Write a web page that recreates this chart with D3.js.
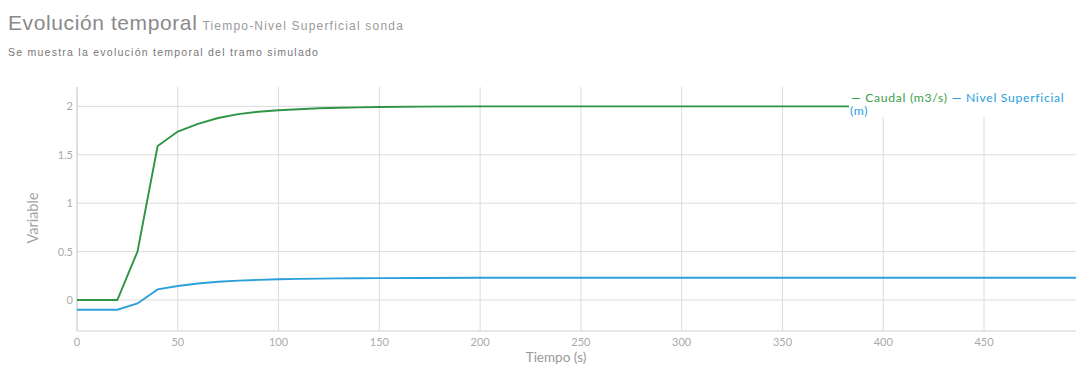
<!DOCTYPE html>
<html><head><meta charset="utf-8">
<script src="https://cdn.jsdelivr.net/npm/d3@7"></script>
<style>
body{margin:0;background:#fff;overflow:hidden}
svg{display:block}
</style></head><body>
<svg id="c" width="1076" height="370"></svg>
<script>
const times = [0,10,20,30,40,50,60,70,80,90,100,110,120,130,140,150,170,200,250,300,350,400,450,500];
const caudal = [0,0,0,0.5,1.59,1.74,1.82,1.88,1.92,1.945,1.96,1.97,1.98,1.985,1.99,1.993,1.997,2,2,2,2,2,2,2];
const nivel = [-0.1,-0.1,-0.1,-0.035,0.11,0.145,0.17,0.188,0.2,0.208,0.214,0.218,0.221,0.223,0.225,0.226,0.228,0.23,0.23,0.23,0.23,0.23,0.23,0.23];
const xTicks = [0,50,100,150,200,250,300,350,400,450];
const yTicks = [0,0.5,1,1.5,2];
const seriesNames = ["Caudal (m3/s)","Nivel Superficial (m)"];

const svg = d3.select("#c");
const pLeft = 77, pTop = 87, pBottom = 331, pRight = 1076;
const x = d3.scaleLinear().domain([0,500]).range([pLeft, pLeft + 500*2.0156]);
const y = d3.scaleLinear().domain([-0.32,2.2]).range([pBottom, pTop]);
const tickFont = "Lato, 'Open Sans', sans-serif";

// grid
svg.append("g").selectAll("line").data(xTicks).join("line")
  .attr("x1", d=>x(d)).attr("x2", d=>x(d)).attr("y1", pTop).attr("y2", pBottom)
  .attr("stroke", "#dcdcdc").attr("stroke-width", 1);
svg.append("g").selectAll("line").data(yTicks).join("line")
  .attr("x1", pLeft).attr("x2", pRight).attr("y1", d=>y(d)).attr("y2", d=>y(d))
  .attr("stroke", "#dcdcdc").attr("stroke-width", 1);
// axes lines
svg.append("line").attr("x1",pLeft).attr("x2",pLeft).attr("y1",pTop).attr("y2",pBottom).attr("stroke","#d0d0d0");
svg.append("line").attr("x1",pLeft).attr("x2",pRight).attr("y1",pBottom).attr("y2",pBottom).attr("stroke","#d0d0d0");

// tick labels
svg.append("g").selectAll("text").data(xTicks).join("text")
  .attr("x", d=>x(d)).attr("y", 346).attr("text-anchor","middle")
  .attr("font-family", tickFont).attr("font-size", 11).attr("fill", "#aaa")
  .text(d=>d);
svg.append("g").selectAll("text").data(yTicks).join("text")
  .attr("x", 73).attr("y", d=>y(d)+4).attr("text-anchor","end")
  .attr("font-family", tickFont).attr("font-size", 11).attr("fill", "#aaa")
  .text(d=>d);

// axis titles
svg.append("text").attr("x", 556).attr("y", 362).attr("text-anchor","middle")
  .attr("font-family", tickFont).attr("font-size", 13.5).attr("fill", "#999").text("Tiempo (s)");
svg.append("text").attr("transform","translate(38,218) rotate(-90)").attr("text-anchor","middle")
  .attr("font-family", tickFont).attr("font-size", 14.5).attr("fill", "#a5a5a5").text("Variable");

// lines
const line = vals => d3.line().x((d,i)=>x(times[i])).y(d=>y(d))(vals);
svg.append("path").attr("d", line(caudal)).attr("fill","none").attr("stroke","#2f9444").attr("stroke-width",1.9);
svg.append("path").attr("d", line(nivel)).attr("fill","none").attr("stroke","#2ca0dc").attr("stroke-width",1.9);

// legend
svg.append("rect").attr("x", 849).attr("y", 86).attr("width", 227).attr("height", 31).attr("fill","#fff");
const lg = svg.append("text").attr("font-family", tickFont).attr("font-size", 12.2).attr("letter-spacing", 0.7);
lg.append("tspan").attr("x", 851).attr("y", 102).attr("fill","#3aa04a").text("— " + seriesNames[0]);
lg.append("tspan").attr("dx", 4).attr("fill","#2a9ee0").text("— Nivel Superficial");
svg.append("text").attr("font-family", tickFont).attr("font-size", 12.2).attr("letter-spacing", 0.7).attr("x", 850).attr("y", 115)
  .attr("fill","#2a9ee0").text("(m)");

// titles
svg.append("text").attr("x", 8).attr("y", 30).attr("font-family","'Liberation Sans', Arial, sans-serif")
  .attr("font-size", 21).attr("letter-spacing", 0.6).attr("fill","#8a8a8a").text("Evolución temporal")
  .append("tspan").attr("dx", 5).attr("font-size", 12).attr("letter-spacing", 1.2).attr("fill","#9a9a9a").text("Tiempo-Nivel Superficial sonda");
svg.append("text").attr("x", 8).attr("y", 56).attr("font-family","'Liberation Sans', Arial, sans-serif")
  .attr("font-size", 10.5).attr("letter-spacing", 1.25).attr("fill","#777").text("Se muestra la evolución temporal del tramo simulado");
</script>
</body></html>
